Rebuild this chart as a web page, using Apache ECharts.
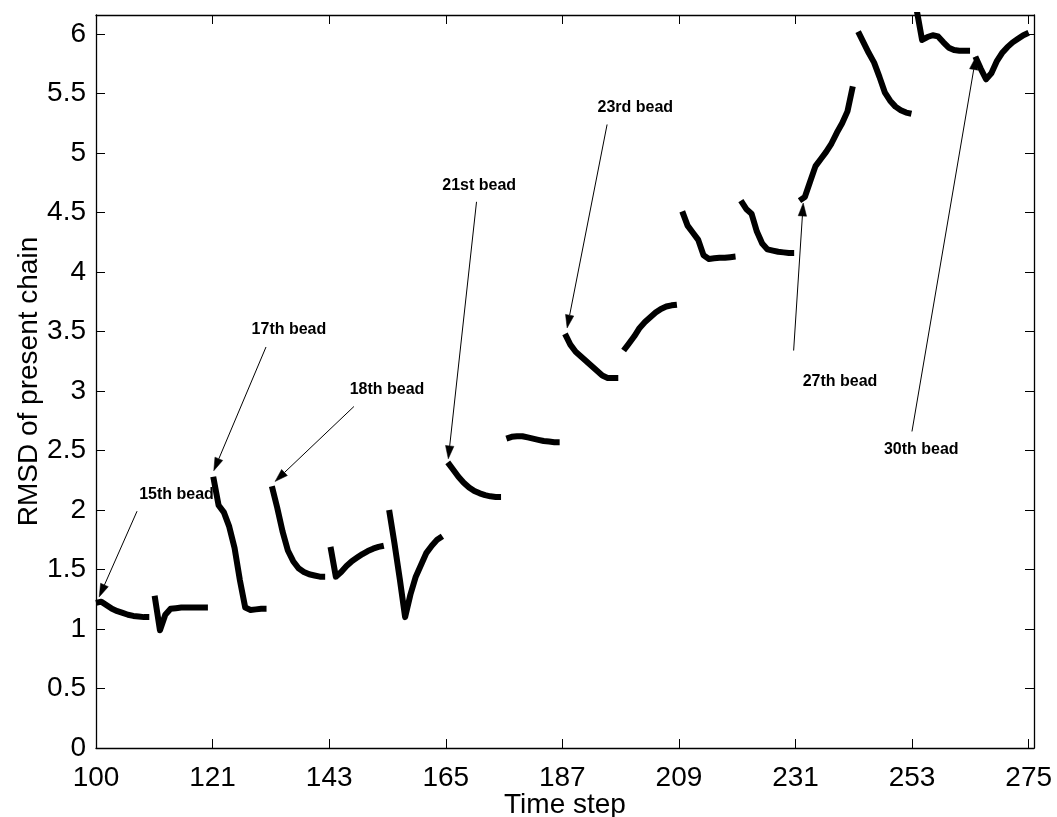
<!DOCTYPE html>
<html>
<head>
<meta charset="utf-8">
<script src="https://cdn.jsdelivr.net/npm/echarts@6/dist/echarts.min.js"></script>
<style>
  html, body { margin: 0; padding: 0; background: #fff; }
  #chart { width: 1057px; height: 817px; }
</style>
</head>
<body>
<div id="chart"></div>
<script>
// RMSD of the growing chain, one value per time step from 100 to 275.
// Every 11 steps a new bead is added, so the trace is drawn in separate pieces.
const firstStep = 100;
const segmentLength = 11;
const rmsd = [
  // 100-110
  1.22, 1.23, 1.20, 1.17, 1.15, 1.135, 1.12, 1.11, 1.105, 1.10, 1.10,
  // 111-121
  1.28, 0.99, 1.12, 1.17, 1.175, 1.18, 1.18, 1.18, 1.18, 1.18, 1.18,
  // 122-132
  2.28, 2.04, 1.98, 1.86, 1.68, 1.41, 1.18, 1.16, 1.165, 1.17, 1.17,
  // 133-143
  2.20, 2.02, 1.82, 1.66, 1.57, 1.51, 1.48, 1.46, 1.45, 1.44, 1.44,
  // 144-154
  1.69, 1.44, 1.48, 1.53, 1.57, 1.60, 1.63, 1.655, 1.675, 1.69, 1.70,
  // 155-165
  2.00, 1.72, 1.42, 1.10, 1.29, 1.44, 1.54, 1.64, 1.70, 1.75, 1.78,
  // 166-176
  2.40, 2.34, 2.28, 2.23, 2.19, 2.16, 2.14, 2.125, 2.115, 2.11, 2.11,
  // 177-187
  2.60, 2.615, 2.62, 2.62, 2.61, 2.60, 2.59, 2.58, 2.575, 2.57, 2.57,
  // 188-198
  3.48, 3.39, 3.33, 3.29, 3.25, 3.21, 3.17, 3.13, 3.11, 3.11, 3.11,
  // 199-209
  3.34, 3.40, 3.46, 3.53, 3.58, 3.62, 3.66, 3.69, 3.71, 3.72, 3.725,
  // 210-220
  4.51, 4.39, 4.33, 4.27, 4.14, 4.11, 4.115, 4.12, 4.12, 4.125, 4.13,
  // 221-231
  4.60, 4.53, 4.49, 4.34, 4.24, 4.19, 4.18, 4.17, 4.165, 4.16, 4.16,
  // 232-242
  4.60, 4.63, 4.76, 4.89, 4.95, 5.01, 5.08, 5.17, 5.25, 5.35, 5.56,
  // 243-253
  6.02, 5.93, 5.84, 5.76, 5.64, 5.51, 5.44, 5.39, 5.36, 5.34, 5.33,
  // 254-264
  6.20, 5.95, 5.975, 5.99, 5.98, 5.93, 5.885, 5.865, 5.86, 5.86, 5.86,
  // 265-275
  5.81, 5.71, 5.62, 5.67, 5.77, 5.84, 5.89, 5.93, 5.96, 5.99, 6.01
];

// Axis ticks
const xTickValues = [100, 121.875, 143.75, 165.625, 187.5, 209.375, 231.25, 253.125, 275];
const xTickLabels = ['100', '121', '143', '165', '187', '209', '231', '253', '275'];
const yTickValues = [0, 0.5, 1, 1.5, 2, 2.5, 3, 3.5, 4, 4.5, 5, 5.5, 6];
const yTickLabels = ['0', '0.5', '1', '1.5', '2', '2.5', '3', '3.5', '4', '4.5', '5', '5.5', '6'];

// Bead annotations
const beadLabels = ['15th bead', '17th bead', '18th bead', '21st bead', '23rd bead', '27th bead', '30th bead'];

// Annotation layout, in data units: text centre, arrow tail, arrow tip
const beadLabelAt = [[115.1, 2.13], [136.2, 3.52], [154.6, 3.01], [171.9, 4.73], [201.2, 5.38], [239.6, 3.08], [254.85, 2.51]];
const beadArrowFrom = [[107.7, 1.99], [131.9, 3.37], [148.4, 2.87], [171.4, 4.59], [195.9, 5.24], [230.9, 3.34], [253.1, 2.66]];
const beadArrowTo = [[100.6, 1.27], [122.1, 2.33], [133.6, 2.24], [166.1, 2.43], [188.4, 3.53], [232.7, 4.58], [265.1, 5.81]];

const FONT = '"Liberation Sans", Arial, Helvetica, sans-serif';
const xMin = 100, xMax = 276, yMin = 0, yMax = 6.16;

function tickLabel(values, labels, v) {
  let best = 0;
  for (let i = 1; i < values.length; i++) {
    if (Math.abs(values[i] - v) < Math.abs(values[best] - v)) best = i;
  }
  return labels[best];
}

const series = [];
for (let s = 0; s * segmentLength < rmsd.length; s++) {
  const pts = [];
  for (let i = 0; i < segmentLength; i++) {
    const idx = s * segmentLength + i;
    if (idx < rmsd.length) pts.push([firstStep + idx, rmsd[idx]]);
  }
  series.push({
    type: 'line',
    data: pts,
    symbol: 'none',
    showSymbol: false,
    clip: true,
    silent: true,
    xAxisIndex: 0,
    yAxisIndex: 0,
    lineStyle: { color: '#000', width: 6, cap: 'butt', join: 'round' }
  });
}

const frameLine = { show: true, onZero: false, lineStyle: { color: '#000', width: 1.3 } };
const xTick = { show: true, inside: true, length: 9, customValues: xTickValues, lineStyle: { color: '#000', width: 1 } };
const yTick = { show: true, inside: true, length: 9, customValues: yTickValues, lineStyle: { color: '#000', width: 1 } };

const option = {
  animation: false,
  backgroundColor: '#fff',
  grid: { left: 96, right: 23, top: 15, bottom: 69, containLabel: false, outerBoundsMode: 'none' },
  xAxis: [
    {
      type: 'value', min: xMin, max: xMax, position: 'bottom',
      axisLine: frameLine, axisTick: xTick, splitLine: { show: false },
      axisLabel: {
        customValues: xTickValues,
        formatter: v => tickLabel(xTickValues, xTickLabels, v),
        color: '#000', fontSize: 28, fontFamily: FONT, margin: 16
      },
      name: 'Time step', nameLocation: 'middle', nameGap: 43, nameMoveOverlap: false,
      nameTextStyle: { color: '#000', fontSize: 28, fontFamily: FONT }
    },
    {
      type: 'value', min: xMin, max: xMax, position: 'top',
      axisLine: frameLine, axisTick: xTick, splitLine: { show: false },
      axisLabel: { show: false }
    }
  ],
  yAxis: [
    {
      type: 'value', min: yMin, max: yMax, position: 'left',
      axisLine: frameLine, axisTick: yTick, splitLine: { show: false },
      axisLabel: {
        customValues: yTickValues,
        formatter: v => tickLabel(yTickValues, yTickLabels, v),
        color: '#000', fontSize: 28, fontFamily: FONT, margin: 10
      },
      name: 'RMSD of present chain', nameLocation: 'middle', nameGap: 53, nameRotate: 90, nameMoveOverlap: false,
      nameTextStyle: { color: '#000', fontSize: 28, fontFamily: FONT }
    },
    {
      type: 'value', min: yMin, max: yMax, position: 'right',
      axisLine: frameLine, axisTick: yTick, splitLine: { show: false },
      axisLabel: { show: false }
    }
  ],
  series: series
};

const chart = echarts.init(document.getElementById('chart'), null, { renderer: 'canvas' });
chart.setOption(option);

// Arrows and bead labels, placed through the grid's coordinate system
function toPx(p) { return chart.convertToPixel({ seriesIndex: 0 }, p); }

const annotations = [];
const headLen = 13, headHalfWidth = 4.2;
for (let i = 0; i < beadLabels.length; i++) {
  const tail = toPx(beadArrowFrom[i]);
  const tip = toPx(beadArrowTo[i]);
  const dx = tip[0] - tail[0], dy = tip[1] - tail[1];
  const len = Math.hypot(dx, dy);
  const ux = dx / len, uy = dy / len;
  const bx = tip[0] - ux * headLen, by = tip[1] - uy * headLen;
  const nx = -uy, ny = ux;
  annotations.push({
    type: 'line', silent: true, z: 100,
    shape: { x1: tail[0], y1: tail[1], x2: bx, y2: by },
    style: { stroke: '#000', lineWidth: 1 }
  });
  annotations.push({
    type: 'polygon', silent: true, z: 100,
    shape: { points: [tip, [bx + nx * headHalfWidth, by + ny * headHalfWidth], [bx - nx * headHalfWidth, by - ny * headHalfWidth]] },
    style: { fill: '#000', stroke: '#000', lineWidth: 0.5 }
  });
  const lp = toPx(beadLabelAt[i]);
  annotations.push({
    type: 'text', silent: true, z: 100,
    x: lp[0], y: lp[1],
    style: {
      text: beadLabels[i],
      font: 'bold 16px ' + FONT,
      fill: '#000',
      align: 'center', verticalAlign: 'middle',
      textAlign: 'center', textVerticalAlign: 'middle'
    }
  });
}
chart.setOption({ graphic: { elements: annotations } });
</script>
</body>
</html>
